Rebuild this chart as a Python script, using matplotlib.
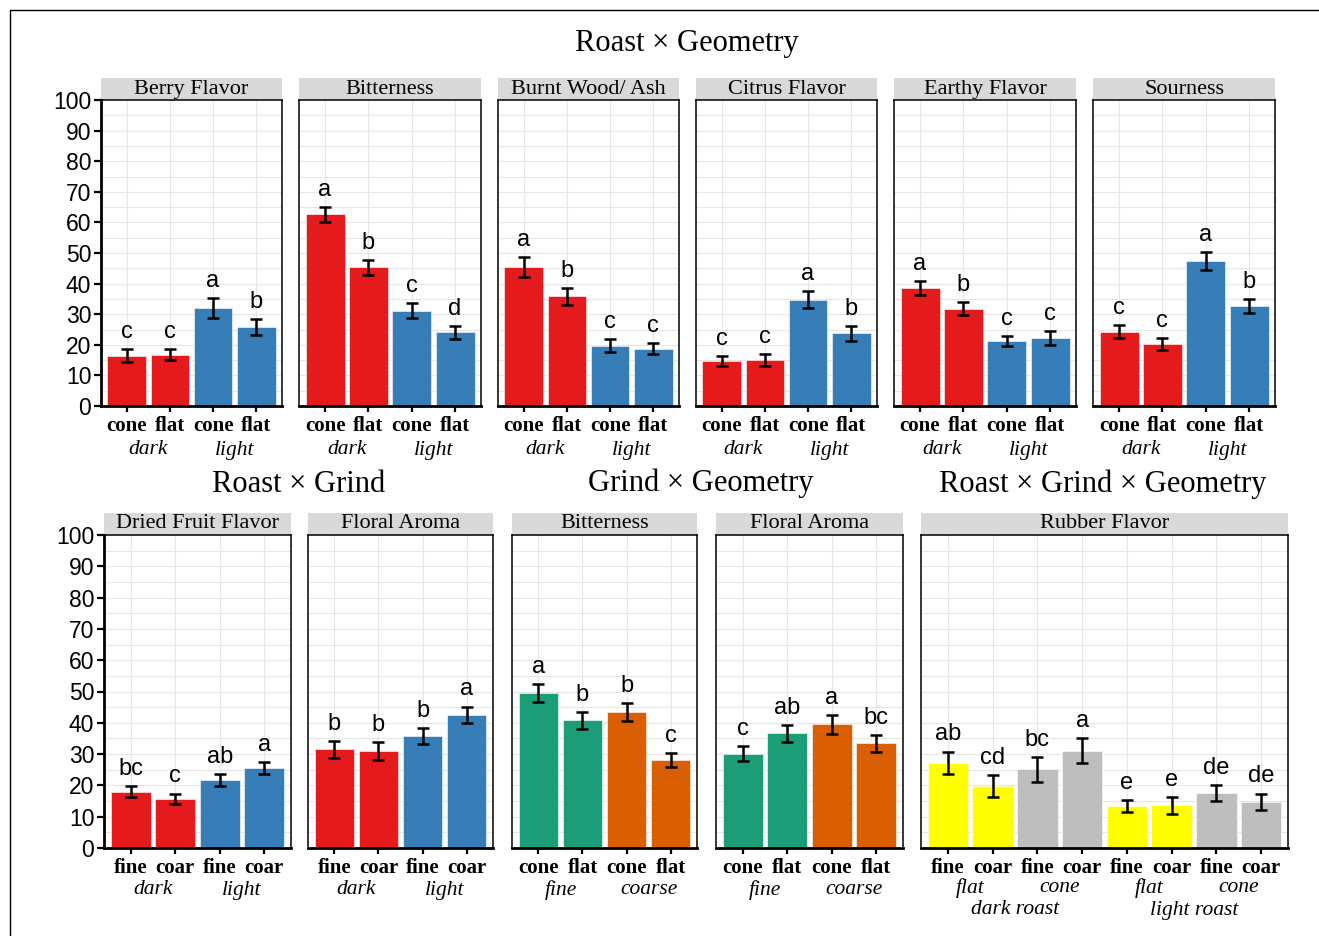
import numpy as np
import matplotlib
matplotlib.use("Agg")
import matplotlib.pyplot as plt
from matplotlib.patches import Rectangle
from matplotlib.lines import Line2D

W, H = 1319, 936
SERIF = "Liberation Serif"
SANS = "Liberation Sans"

RED, BLUE = "#E41A1C", "#377EB8"
GREEN, ORANGE = "#1B9E77", "#D95F02"
YELLOW, GREY = "#FFFF00", "#BEBEBE"

# ---- Roast x Geometry (top row) ----
rg_panels = ["Berry Flavor", "Bitterness", "Burnt Wood/ Ash",
             "Citrus Flavor", "Earthy Flavor", "Sourness"]
rg_ticks = ["cone", "flat", "cone", "flat"]
rg_groups = ["dark", "light"]
rg_means = [[16.4, 16.8, 32.1, 25.8],
            [62.6, 45.3, 31.2, 24.1],
            [45.4, 35.8, 19.7, 18.7],
            [14.7, 15.1, 34.8, 23.7],
            [38.5, 31.8, 21.3, 22.2],
            [24.3, 20.3, 47.4, 32.6]]
rg_errs = [[2.1, 1.9, 3.3, 2.7],
           [2.5, 2.4, 2.3, 2.1],
           [3.2, 2.8, 2.1, 1.8],
           [1.5, 2.0, 2.8, 2.4],
           [2.3, 2.2, 1.7, 2.2],
           [2.2, 2.0, 2.8, 2.3]]
rg_letters = [["c", "c", "a", "b"],
              ["a", "b", "c", "d"],
              ["a", "b", "c", "c"],
              ["c", "c", "a", "b"],
              ["a", "b", "c", "c"],
              ["c", "c", "a", "b"]]

# ---- Roast x Grind ----
rgr_panels = ["Dried Fruit Flavor", "Floral Aroma"]
rgr_ticks = ["fine", "coar", "fine", "coar"]
rgr_groups = ["dark", "light"]
rgr_means = [[18.0, 15.7, 21.7, 25.5],
             [31.5, 30.9, 35.8, 42.5]]
rgr_errs = [[1.8, 1.7, 1.9, 1.9],
            [2.6, 2.9, 2.6, 2.7]]
rgr_letters = [["bc", "c", "ab", "a"],
               ["b", "b", "b", "a"]]

# ---- Grind x Geometry ----
gg_panels = ["Bitterness", "Floral Aroma"]
gg_ticks = ["cone", "flat", "cone", "flat"]
gg_groups = ["fine", "coarse"]
gg_means = [[49.6, 40.8, 43.5, 28.1],
            [30.1, 36.6, 39.5, 33.4]]
gg_errs = [[2.9, 2.7, 2.9, 2.3],
           [2.4, 2.7, 3.0, 2.7]]
gg_letters = [["a", "b", "b", "c"],
              ["c", "ab", "a", "bc"]]

# ---- Roast x Grind x Geometry ----
rgg_panel = "Rubber Flavor"
rgg_ticks = ["fine", "coar"] * 4
rgg_geoms = ["flat", "cone", "flat", "cone"]
rgg_roasts = ["dark roast", "light roast"]
rgg_means = [27.2, 19.8, 25.1, 31.1, 13.4, 13.6, 17.5, 14.8]
rgg_errs = [3.6, 3.5, 4.0, 4.1, 1.9, 2.8, 2.6, 2.6]
rgg_letters = ["ab", "cd", "bc", "a", "e", "e", "de", "de"]

fig = plt.figure(figsize=(W / 100, H / 100), dpi=100)


def px_axes(x0, x1, ytop, ybot):
    return fig.add_axes([x0 / W, 1 - ybot / H, (x1 - x0) / W, (ybot - ytop) / H])


def facet(ax, title, ticks, means, errs, letters, colors, first, strip_px=22):
    n = len(means)
    x = np.arange(n)
    ax.set_xlim(-0.6, n - 0.4)
    ax.set_ylim(0, 100)
    for yy in range(5, 100, 5):
        ax.axhline(yy, color="#E6E6E6", lw=0.8, zorder=0)
    for xx in x:
        ax.axvline(xx, color="#E6E6E6", lw=0.8, zorder=0)
    ax.bar(x, means, width=0.9, color=colors, edgecolor="white", linewidth=0.4, zorder=2)
    ax.errorbar(x, means, yerr=errs, fmt="none", ecolor="black", elinewidth=1.8,
                capsize=4.5, capthick=1.8, zorder=3)
    for xi, m, e, lab in zip(x, means, errs, letters):
        ax.annotate(lab, (xi, m + e), xytext=(0, 8), textcoords="offset points",
                    ha="center", va="baseline", fontsize=17, family=SANS, zorder=4)
    ax.set_xticks(x)
    ax.set_xticklabels(ticks, fontsize=15, fontweight="bold", family=SERIF)
    ax.tick_params(axis="x", length=4, width=1.6, pad=3)
    for sp in ax.spines.values():
        sp.set_linewidth(1.1)
    ax.spines["bottom"].set_linewidth(2.0)
    if first:
        ax.set_yticks(range(0, 101, 10))
        ax.set_yticklabels([str(v) for v in range(0, 101, 10)], fontsize=16.5, family=SANS)
        ax.tick_params(axis="y", length=5, width=1.6, pad=2)
        ax.spines["left"].set_linewidth(2.0)
    else:
        ax.set_yticks([])
    bbox = ax.get_position()
    hfrac = strip_px / (bbox.height * H)
    ax.add_patch(Rectangle((0, 1), 1, hfrac, transform=ax.transAxes, facecolor="#D9D9D9",
                           edgecolor="none", clip_on=False))
    ax.text(0.5, 1 + hfrac / 2, title, transform=ax.transAxes, ha="center", va="center",
            fontsize=16, family=SERIF)


def group_label(ax, xpos, text, off_px):
    ax.annotate(text, (xpos, 0), xycoords=("data", "axes fraction"),
                xytext=(0, -off_px * 0.72), textcoords="offset points",
                ha="center", va="center", fontsize=15.5, style="italic", family=SERIF)


# top row
top_x = [(101, 282), (299, 481), (498, 679), (696, 877), (894, 1076), (1093, 1275)]
for i, (x0, x1) in enumerate(top_x):
    ax = px_axes(x0, x1, 100, 406)
    facet(ax, rg_panels[i], rg_ticks, rg_means[i], rg_errs[i], rg_letters[i],
          [RED, RED, BLUE, BLUE], i == 0)
    group_label(ax, 0.5, rg_groups[0], 44)
    group_label(ax, 2.5, rg_groups[1], 44)

# bottom row
bot_x = [(104, 291), (308, 493)]
for i, (x0, x1) in enumerate(bot_x):
    ax = px_axes(x0, x1, 535, 848)
    facet(ax, rgr_panels[i], rgr_ticks, rgr_means[i], rgr_errs[i], rgr_letters[i],
          [RED, RED, BLUE, BLUE], i == 0)
    group_label(ax, 0.5, rgr_groups[0], 42)
    group_label(ax, 2.5, rgr_groups[1], 42)

gg_x = [(512, 697), (716, 903)]
for i, (x0, x1) in enumerate(gg_x):
    ax = px_axes(x0, x1, 535, 848)
    facet(ax, gg_panels[i], gg_ticks, gg_means[i], gg_errs[i], gg_letters[i],
          [GREEN, GREEN, ORANGE, ORANGE], False)
    group_label(ax, 0.5, gg_groups[0], 42)
    group_label(ax, 2.5, gg_groups[1], 42)

ax = px_axes(921, 1288, 535, 848)
facet(ax, rgg_panel, rgg_ticks, rgg_means, rgg_errs, rgg_letters,
      [YELLOW, YELLOW, GREY, GREY] * 2, False)
for j, g in enumerate(rgg_geoms):
    group_label(ax, 2 * j + 0.5, g, 40)
group_label(ax, 1.5, rgg_roasts[0], 62)
group_label(ax, 5.5, rgg_roasts[1], 62)

# section titles
fig.text(687 / W, 1 - 43 / H, "Roast \u00d7 Geometry", ha="center", va="center",
         fontsize=22, family=SERIF)
fig.text(299 / W, 1 - 484 / H, "Roast \u00d7 Grind", ha="center", va="center",
         fontsize=22, family=SERIF)
fig.text(701 / W, 1 - 483 / H, "Grind \u00d7 Geometry", ha="center", va="center",
         fontsize=22, family=SERIF)
fig.text(1103 / W, 1 - 484 / H, "Roast \u00d7 Grind \u00d7 Geometry", ha="center",
         va="center", fontsize=22, family=SERIF)

# outer frame (top/left edges)
fig.add_artist(Line2D([10 / W, 10 / W, 1], [0, 1 - 10 / H, 1 - 10 / H],
                      transform=fig.transFigure, color="black", lw=1.0))

fig.savefig("out.png", dpi=100, facecolor="white")
